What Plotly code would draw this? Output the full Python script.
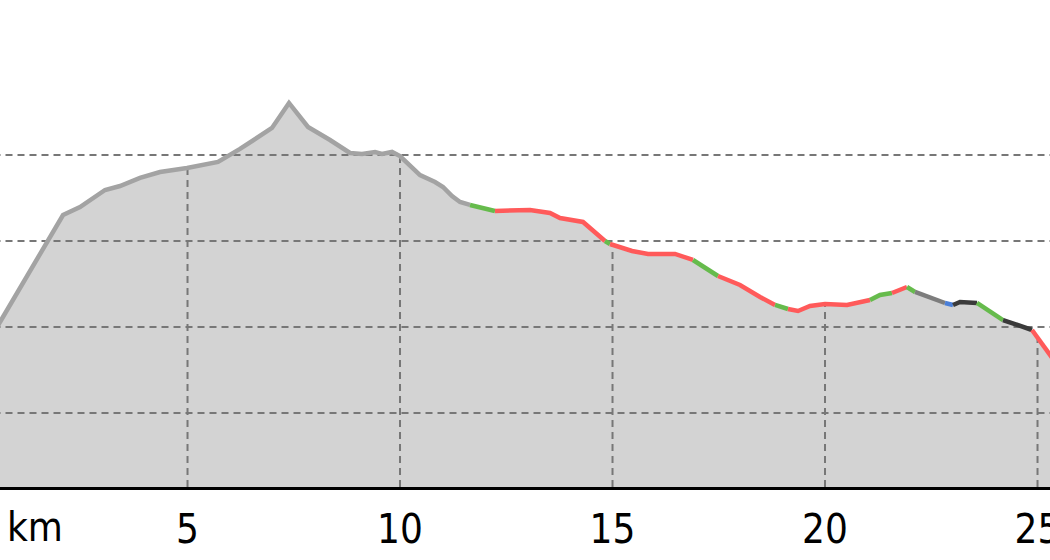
import numpy as np
import plotly.graph_objects as go

# distance along route (km) and elevation (m)
km = [0.0, 0.588, 2.071, 2.471, 3.059, 3.412, 3.882, 4.353, 4.988, 5.412,
      5.718, 6.235, 6.706, 6.988, 7.388, 7.647, 7.835, 8.353, 8.824, 9.106,
      9.412, 9.576, 9.812, 10.0, 10.235, 10.471, 10.824, 11.012, 11.224, 11.412,
      11.647, 11.953, 12.235, 13.059, 13.529, 13.765, 14.306, 14.824, 14.941, 15.459,
      15.835, 16.471, 16.894, 17.482, 18.0, 18.471, 18.824, 19.129, 19.365, 19.647,
      20.0, 20.518, 21.059, 21.294, 21.576, 21.929, 22.118, 22.471, 22.824, 23.012,
      23.176, 23.576, 24.188, 24.871, 25.294, 25.718]
elev = [252.3, 305.8, 430.2, 439.5, 459.3, 463.9, 473.3, 480.2, 484.9, 489.5,
        491.9, 507.0, 522.1, 531.4, 560.5, 545.3, 532.6, 517.4, 502.3, 501.2,
        503.5, 501.2, 503.5, 498.8, 487.2, 476.7, 468.6, 462.8, 452.3, 445.3,
        441.9, 438.4, 434.9, 436.1, 432.6, 426.7, 422.1, 400.0, 396.5, 388.4,
        384.9, 384.9, 377.9, 359.3, 348.8, 334.9, 325.6, 320.9, 318.6, 324.4,
        326.7, 325.6, 331.4, 337.2, 339.5, 346.5, 340.7, 333.7, 327.9, 325.6,
        329.1, 327.9, 308.1, 296.5, 267.4, 238.4]
# surface class of the segment that starts at each point
surface = (["unknown"] * 30 + ["gravel", "gravel"] + ["asphalt"] * 5 + ["gravel"]
           + ["asphalt"] * 4 + ["gravel"] + ["asphalt"] * 3 + ["gravel"]
           + ["asphalt"] * 5 + ["gravel", "gravel", "asphalt", "gravel"]
           + ["path", "path", "water", "track", "track", "gravel", "track"]
           + ["asphalt", "asphalt", "asphalt"])

x_ticks = [5, 10, 15, 20, 25]
y_grid = [200, 300, 400, 500]
x_range = [0.588, 25.294]
y_range = [113.95, 680.2]

colors = {"unknown": "#a3a3a3", "gravel": "#66bb4c", "asphalt": "#ff5a5a",
          "path": "#7d7d7d", "water": "#4a7fd8", "track": "#3a3a3a"}

fig = go.Figure()
fig.add_trace(go.Scatter(x=km, y=elev, mode="lines", fill="tozeroy",
                         fillcolor="#d3d3d3", line=dict(width=0),
                         hoverinfo="skip", showlegend=False))

grid_style = dict(color="#777777", width=2, dash="7px,5px")
for g in y_grid:
    fig.add_trace(go.Scatter(x=[x_range[0] - 1, x_range[1] + 1], y=[g, g],
                             mode="lines", line=grid_style, showlegend=False,
                             hoverinfo="skip"))
for t in x_ticks:
    top = float(np.interp(t, km, elev))
    fig.add_trace(go.Scatter(x=[t, t], y=[y_range[0], top], mode="lines",
                             line=grid_style, showlegend=False, hoverinfo="skip"))

# colored profile line, split into runs of equal surface
i = 0
n = len(km)
while i < n - 1:
    j = i
    while j + 1 < n - 1 and surface[j + 1] == surface[i]:
        j += 1
    fig.add_trace(go.Scatter(x=km[i:j + 2], y=elev[i:j + 2], mode="lines",
                             line=dict(color=colors[surface[i]], width=4.5),
                             showlegend=False, hoverinfo="skip"))
    i = j + 1

fig.update_layout(
    width=1050, height=560,
    margin=dict(l=0, r=0, t=0, b=73),
    plot_bgcolor="white", paper_bgcolor="white",
    font=dict(family="DejaVu Sans Condensed, DejaVu Sans", size=40, color="black"),
    xaxis=dict(range=x_range, tickvals=x_ticks, ticktext=[str(t) for t in x_ticks],
               showgrid=False, zeroline=False, showline=True, linecolor="black",
               linewidth=3, ticks="", ticklabelstandoff=5,
               ticklabeloverflow="allow", automargin=False),
    yaxis=dict(range=y_range, showgrid=False, zeroline=False,
               showticklabels=False, showline=False, automargin=False),
    annotations=[dict(text="km", xref="paper", yref="paper", x=35 / 1050, y=0,
                      yshift=-40, showarrow=False, xanchor="center", yanchor="middle",
                      font=dict(size=40))],
)
fig.write_html("out.html", config={"displayModeBar": False},
               post_script="document.body.style.margin='0';document.body.style.overflow='hidden';")
